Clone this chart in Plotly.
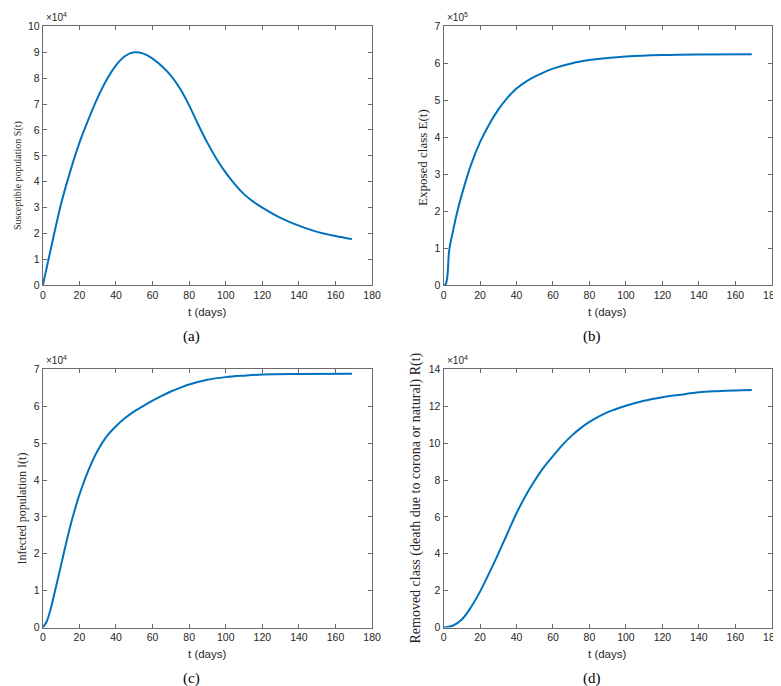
import plotly.graph_objects as go

# ---------------- data ----------------
t_S = [0, 5, 10, 15, 20, 25, 30, 35, 40, 45, 50, 55, 60, 65, 70, 75, 80, 85, 90, 95, 100,
       105, 110, 115, 120, 130, 140, 150, 160, 169]
S_1e4 = [0, 1.6, 3.15, 4.4, 5.5, 6.42, 7.25, 7.95, 8.5, 8.86, 9.0, 8.95, 8.76, 8.47, 8.1,
         7.6, 6.95, 6.2, 5.5, 4.88, 4.35, 3.9, 3.52, 3.23, 3.0, 2.6, 2.3, 2.06, 1.9, 1.78]

t_E = [0, 1, 2, 3, 4, 5, 7, 10, 15, 20, 25, 30, 35, 40, 45, 50, 55, 60, 70, 80, 90, 100,
       120, 140, 169]
E_1e5 = [0, 0.01, 0.2, 0.9, 1.2, 1.42, 1.88, 2.45, 3.25, 3.87, 4.35, 4.75, 5.07, 5.32, 5.5,
         5.64, 5.76, 5.86, 6.0, 6.09, 6.15, 6.19, 6.23, 6.245, 6.25]

t_I = [0, 2, 4, 6, 8, 10, 12, 15, 18, 20, 25, 30, 35, 40, 45, 50, 55, 60, 65, 70, 75, 80,
       90, 100, 110, 120, 140, 169]
I_1e4 = [0, 0.15, 0.45, 0.85, 1.27, 1.7, 2.13, 2.75, 3.28, 3.6, 4.27, 4.8, 5.19, 5.46,
         5.68, 5.86, 6.01, 6.15, 6.28, 6.4, 6.5, 6.59, 6.72, 6.79, 6.83, 6.86, 6.875, 6.88]

t_R = [0, 5, 10, 15, 20, 25, 30, 35, 40, 45, 50, 55, 60, 65, 70, 75, 80, 90, 100, 110, 120,
       130, 140, 150, 160, 169]
R_1e4 = [0, 0.1, 0.44, 1.1, 1.95, 2.95, 4.0, 5.1, 6.2, 7.15, 7.97, 8.7, 9.3, 9.88, 10.38,
         10.8, 11.15, 11.68, 12.03, 12.3, 12.49, 12.63, 12.76, 12.82, 12.86, 12.88]

x_ticks = [0, 20, 40, 60, 80, 100, 120, 140, 160, 180]
S_ticks = list(range(0, 11))
E_ticks = list(range(0, 8))
I_ticks = list(range(0, 8))
R_ticks = list(range(0, 15, 2))

y_titles = ["Susceptible population S(t)", "Exposed class E(t)",
            "Infected population I(t)", "Removed class (death due to corona or natural) R(t)"]
captions = ["(a)", "(b)", "(c)", "(d)"]
exponents = ["4", "5", "4", "4"]
x_title = "t (days)"

# ---------------- layout geometry ----------------
W, H = 781, 686
px_boxes = [  # left, right, top, bottom in pixels
    (32.3, 366.7, 12.7, 276.0),
    (439.3, 772.7, 12.7, 276.0),
    (32.3, 366.7, 361.7, 624.5),
    (439.3, 772.7, 361.7, 624.5),
]
ytitle_pos = [(7, 164, 10), (418, 146, 13), (11.5, 503, 12), (411.5, 493, 14)]

LINE = "#0072BD"
AX = "#6a6a6a"
TXT = "#262626"
SANS = "Liberation Sans, Arial, sans-serif"
SERIF = "Liberation Serif, DejaVu Serif, serif"

series = [
    (t_S, S_1e4, S_ticks, 10),
    (t_E, E_1e5, E_ticks, 7),
    (t_I, I_1e4, I_ticks, 7),
    (t_R, R_1e4, R_ticks, 14),
]

fig = go.Figure()
annotations = []
layout = dict(
    width=W, height=H, margin=dict(l=0, r=0, t=0, b=0),
    paper_bgcolor="white", plot_bgcolor="white", showlegend=False,
)

for i, ((tx, vals, yt, ymax), (l, r, tp, bt)) in enumerate(zip(series, px_boxes)):
    n = "" if i == 0 else str(i + 1)
    xa, ya = "x" + n, "y" + n
    fig.add_trace(go.Scatter(x=tx, y=vals, mode="lines", xaxis=xa, yaxis=ya,
                             line=dict(color=LINE, width=2, shape="spline", smoothing=1.0),
                             hoverinfo="skip"))
    common = dict(showline=True, linecolor=AX, linewidth=1, mirror="ticks",
                  ticks="inside", ticklen=4, tickcolor=AX, tickwidth=1,
                  showgrid=False, zeroline=False,
                  tickfont=dict(family=SANS, size=10.5, color=TXT))
    layout["xaxis" + n] = dict(domain=[l / W, r / W], range=[0, 180], tickvals=x_ticks,
                               anchor=ya, **common)
    layout["yaxis" + n] = dict(domain=[1 - bt / H, 1 - tp / H], range=[0, ymax],
                               tickvals=yt, anchor=xa, **common)
    cx = (l + r) / 2
    # x axis title
    annotations.append(dict(text=x_title, x=cx / W, y=1 - (bt + 27) / H, xref="paper",
                            yref="paper", showarrow=False, xanchor="center", yanchor="middle",
                            font=dict(family=SANS, size=11.5, color=TXT)))
    # caption
    annotations.append(dict(text=captions[i], x=(cx - 16) / W, y=1 - (bt + 52) / H,
                            xref="paper", yref="paper", showarrow=False, xanchor="center",
                            yanchor="middle", font=dict(family=SERIF, size=15, color="black")))
    # y title
    yx, yy, ys = ytitle_pos[i]
    annotations.append(dict(text=y_titles[i], x=yx / W, y=1 - yy / H,
                            xref="paper", yref="paper", showarrow=False, textangle=-90,
                            xanchor="center", yanchor="middle",
                            font=dict(family=SERIF, size=ys, color=TXT)))
    # exponent label
    annotations.append(dict(text="\u00d710<sup>" + exponents[i] + "</sup>", x=(l + 1) / W,
                            y=1 - (tp - 1) / H, xref="paper", yref="paper", showarrow=False,
                            xanchor="left", yanchor="bottom",
                            font=dict(family=SANS, size=10, color=TXT)))

layout["annotations"] = annotations
fig.update_layout(**layout)
fig.write_html("out.html")
